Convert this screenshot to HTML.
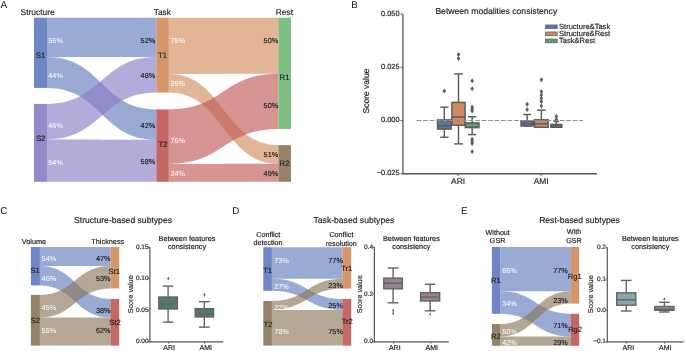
<!DOCTYPE html>
<html><head><meta charset="utf-8"><style>
html,body{margin:0;padding:0;background:#fff;overflow:hidden;width:685px;height:351px;}
svg{display:block;font-family:"Liberation Sans", sans-serif;will-change:transform;text-rendering:geometricPrecision;}
</style></head><body>
<svg width="685" height="351" viewBox="0 0 685 351">
<rect x="0" y="0" width="685" height="351" fill="#ffffff"/>
<text x="0.60" y="7.60" font-size="9.9" fill="#1a1a1a" text-anchor="start" >A</text>
<text x="37.60" y="14.60" font-size="8.4" fill="#262626" stroke="#262626" stroke-width="0.18" text-anchor="middle" >Structure</text>
<text x="162.40" y="14.60" font-size="8.4" fill="#262626" stroke="#262626" stroke-width="0.18" text-anchor="middle" >Task</text>
<text x="284.40" y="14.60" font-size="8.4" fill="#262626" stroke="#262626" stroke-width="0.18" text-anchor="middle" >Rest</text>
<path d="M47.00,17.70 C101.65,17.70 101.65,17.70 156.30,17.70 L156.30,57.00 C101.65,57.00 101.65,57.00 47.00,57.00 Z" fill="#627cbf" fill-opacity="0.65"/>
<path d="M47.00,57.00 C101.65,57.00 101.65,109.40 156.30,109.40 L156.30,139.80 C101.65,139.80 101.65,87.90 47.00,87.90 Z" fill="#627cbf" fill-opacity="0.65"/>
<path d="M47.00,103.90 C101.65,103.90 101.65,57.00 156.30,57.00 L156.30,92.60 C101.65,92.60 101.65,139.50 47.00,139.50 Z" fill="#8b80c6" fill-opacity="0.65"/>
<path d="M47.00,139.50 C101.65,139.50 101.65,139.80 156.30,139.80 L156.30,181.80 C101.65,181.80 101.65,181.80 47.00,181.80 Z" fill="#8b80c6" fill-opacity="0.65"/>
<path d="M168.80,17.70 C223.60,17.70 223.60,17.70 278.40,17.70 L278.40,73.70 C223.60,73.70 223.60,74.00 168.80,74.00 Z" fill="#d28d60" fill-opacity="0.65"/>
<path d="M168.80,74.00 C223.60,74.00 223.60,145.10 278.40,145.10 L278.40,163.70 C223.60,163.70 223.60,92.60 168.80,92.60 Z" fill="#d28d60" fill-opacity="0.65"/>
<path d="M168.80,109.40 C223.60,109.40 223.60,73.70 278.40,73.70 L278.40,129.00 C223.60,129.00 223.60,164.00 168.80,164.00 Z" fill="#c05b58" fill-opacity="0.65"/>
<path d="M168.80,164.00 C223.60,164.00 223.60,163.70 278.40,163.70 L278.40,181.80 C223.60,181.80 223.60,181.80 168.80,181.80 Z" fill="#c05b58" fill-opacity="0.65"/>
<rect x="34.00" y="17.70" width="13.00" height="70.20" fill="#627cbf" fill-opacity="0.92"/>
<rect x="34.00" y="103.90" width="13.00" height="77.90" fill="#8b80c6" fill-opacity="0.92"/>
<rect x="156.30" y="17.70" width="12.50" height="74.90" fill="#d28d60" fill-opacity="0.92"/>
<rect x="156.30" y="109.40" width="12.50" height="72.40" fill="#c05b58" fill-opacity="0.92"/>
<rect x="278.40" y="17.70" width="12.60" height="111.30" fill="#75ba79" fill-opacity="0.92"/>
<rect x="278.40" y="145.10" width="12.60" height="36.70" fill="#8c785c" fill-opacity="0.92"/>
<text x="48.30" y="43.01" font-size="7.3" fill="#ffffff" text-anchor="start" >56%</text>
<text x="48.30" y="77.91" font-size="7.3" fill="#ffffff" text-anchor="start" >44%</text>
<text x="48.30" y="127.71" font-size="7.3" fill="#ffffff" text-anchor="start" >46%</text>
<text x="48.30" y="164.51" font-size="7.3" fill="#ffffff" text-anchor="start" >54%</text>
<text x="155.20" y="43.01" font-size="7.3" fill="#262626" stroke="#262626" stroke-width="0.18" text-anchor="end" >52%</text>
<text x="155.20" y="77.81" font-size="7.3" fill="#262626" stroke="#262626" stroke-width="0.18" text-anchor="end" >48%</text>
<text x="155.20" y="127.71" font-size="7.3" fill="#262626" stroke="#262626" stroke-width="0.18" text-anchor="end" >42%</text>
<text x="155.20" y="164.21" font-size="7.3" fill="#262626" stroke="#262626" stroke-width="0.18" text-anchor="end" >58%</text>
<text x="170.40" y="43.01" font-size="7.3" fill="#ffffff" text-anchor="start" >75%</text>
<text x="170.40" y="86.11" font-size="7.3" fill="#ffffff" text-anchor="start" >25%</text>
<text x="170.40" y="142.71" font-size="7.3" fill="#ffffff" text-anchor="start" >76%</text>
<text x="170.40" y="175.71" font-size="7.3" fill="#ffffff" text-anchor="start" >24%</text>
<text x="278.20" y="43.01" font-size="7.3" fill="#262626" stroke="#262626" stroke-width="0.18" text-anchor="end" >50%</text>
<text x="278.20" y="107.61" font-size="7.3" fill="#262626" stroke="#262626" stroke-width="0.18" text-anchor="end" >50%</text>
<text x="278.20" y="157.31" font-size="7.3" fill="#262626" stroke="#262626" stroke-width="0.18" text-anchor="end" >51%</text>
<text x="278.20" y="175.91" font-size="7.3" fill="#262626" stroke="#262626" stroke-width="0.18" text-anchor="end" >49%</text>
<text x="40.50" y="57.58" font-size="7.8" fill="#262626" stroke="#262626" stroke-width="0.18" text-anchor="middle" >S1</text>
<text x="40.70" y="140.88" font-size="7.8" fill="#262626" stroke="#262626" stroke-width="0.18" text-anchor="middle" >S2</text>
<text x="162.60" y="57.68" font-size="7.8" fill="#262626" stroke="#262626" stroke-width="0.18" text-anchor="middle" >T1</text>
<text x="163.00" y="146.68" font-size="7.8" fill="#262626" stroke="#262626" stroke-width="0.18" text-anchor="middle" >T2</text>
<text x="284.60" y="79.78" font-size="7.8" fill="#262626" stroke="#262626" stroke-width="0.18" text-anchor="middle" >R1</text>
<text x="284.50" y="165.68" font-size="7.8" fill="#262626" stroke="#262626" stroke-width="0.18" text-anchor="middle" >R2</text>
<text x="351.20" y="7.60" font-size="9.9" fill="#1a1a1a" text-anchor="start" >B</text>
<text x="496.30" y="13.80" font-size="8.6" fill="#262626" stroke="#262626" stroke-width="0.18" text-anchor="middle" >Between modalities consistency</text>
<line x1="402.90" y1="14.00" x2="402.90" y2="174.25" stroke="#555555" stroke-width="1.3" />
<line x1="402.40" y1="173.75" x2="597.00" y2="173.75" stroke="#555555" stroke-width="1.3" />
<line x1="400.50" y1="14.00" x2="402.90" y2="14.00" stroke="#555555" stroke-width="1.0" />
<text x="399.60" y="15.55" font-size="7.4" fill="#262626" stroke="#262626" stroke-width="0.18" text-anchor="end" >0.050</text>
<line x1="400.50" y1="67.25" x2="402.90" y2="67.25" stroke="#555555" stroke-width="1.0" />
<text x="399.60" y="68.80" font-size="7.4" fill="#262626" stroke="#262626" stroke-width="0.18" text-anchor="end" >0.025</text>
<line x1="400.50" y1="120.50" x2="402.90" y2="120.50" stroke="#555555" stroke-width="1.0" />
<text x="399.60" y="122.05" font-size="7.4" fill="#262626" stroke="#262626" stroke-width="0.18" text-anchor="end" >0.000</text>
<line x1="400.50" y1="173.75" x2="402.90" y2="173.75" stroke="#555555" stroke-width="1.0" />
<text x="399.60" y="175.30" font-size="7.4" fill="#262626" stroke="#262626" stroke-width="0.18" text-anchor="end" >−0.025</text>
<text x="369.20" y="91.00" font-size="8.5" fill="#262626" stroke="#262626" stroke-width="0.18" text-anchor="middle" transform="rotate(-90 369.2 91.0)">Score value</text>
<line x1="458.10" y1="173.75" x2="458.10" y2="175.80" stroke="#555555" stroke-width="1.0" />
<text x="458.10" y="183.80" font-size="8.4" fill="#262626" stroke="#262626" stroke-width="0.18" text-anchor="middle" >ARI</text>
<line x1="541.10" y1="173.75" x2="541.10" y2="175.80" stroke="#555555" stroke-width="1.0" />
<text x="541.10" y="183.80" font-size="8.4" fill="#262626" stroke="#262626" stroke-width="0.18" text-anchor="middle" >AMI</text>
<line x1="444.30" y1="107.20" x2="444.30" y2="119.90" stroke="#5c5c5c" stroke-width="1.45" />
<line x1="444.30" y1="129.10" x2="444.30" y2="137.30" stroke="#5c5c5c" stroke-width="1.45" />
<line x1="440.15" y1="107.20" x2="448.45" y2="107.20" stroke="#5c5c5c" stroke-width="1.45" />
<line x1="440.15" y1="137.30" x2="448.45" y2="137.30" stroke="#5c5c5c" stroke-width="1.45" />
<rect x="437.50" y="119.90" width="13.60" height="9.20" fill="#5975a4" stroke="#5c5c5c" stroke-width="1.45"/>
<line x1="437.50" y1="125.90" x2="451.10" y2="125.90" stroke="#5c5c5c" stroke-width="1.45" />
<path d="M444.30,88.55 L446.10,91.00 L444.30,93.45 L442.50,91.00 Z" fill="#5c5c5c"/>
<line x1="458.50" y1="73.90" x2="458.50" y2="102.40" stroke="#5c5c5c" stroke-width="1.45" />
<line x1="458.50" y1="125.20" x2="458.50" y2="143.90" stroke="#5c5c5c" stroke-width="1.45" />
<line x1="454.10" y1="73.90" x2="462.90" y2="73.90" stroke="#5c5c5c" stroke-width="1.45" />
<line x1="454.10" y1="143.90" x2="462.90" y2="143.90" stroke="#5c5c5c" stroke-width="1.45" />
<rect x="451.90" y="102.40" width="13.20" height="22.80" fill="#cc8963" stroke="#5c5c5c" stroke-width="1.45"/>
<line x1="451.90" y1="117.00" x2="465.10" y2="117.00" stroke="#5c5c5c" stroke-width="1.45" />
<path d="M458.50,52.15 L460.30,54.60 L458.50,57.05 L456.70,54.60 Z" fill="#5c5c5c"/>
<path d="M458.50,56.05 L460.30,58.50 L458.50,60.95 L456.70,58.50 Z" fill="#5c5c5c"/>
<line x1="472.15" y1="116.80" x2="472.15" y2="122.90" stroke="#5c5c5c" stroke-width="1.45" />
<line x1="472.15" y1="127.60" x2="472.15" y2="134.60" stroke="#5c5c5c" stroke-width="1.45" />
<line x1="468.05" y1="116.80" x2="476.25" y2="116.80" stroke="#5c5c5c" stroke-width="1.45" />
<line x1="468.05" y1="134.60" x2="476.25" y2="134.60" stroke="#5c5c5c" stroke-width="1.45" />
<rect x="465.30" y="122.90" width="13.70" height="4.70" fill="#5f9e6e" stroke="#5c5c5c" stroke-width="1.45"/>
<line x1="465.30" y1="127.30" x2="479.00" y2="127.30" stroke="#5c5c5c" stroke-width="1.45" />
<path d="M472.15,78.35 L473.95,80.80 L472.15,83.25 L470.35,80.80 Z" fill="#5c5c5c"/>
<path d="M472.15,86.35 L473.95,88.80 L472.15,91.25 L470.35,88.80 Z" fill="#5c5c5c"/>
<path d="M472.15,104.65 L473.95,107.10 L472.15,109.55 L470.35,107.10 Z" fill="#5c5c5c"/>
<path d="M472.15,106.65 L473.95,109.10 L472.15,111.55 L470.35,109.10 Z" fill="#5c5c5c"/>
<path d="M472.15,108.65 L473.95,111.10 L472.15,113.55 L470.35,111.10 Z" fill="#5c5c5c"/>
<path d="M472.15,136.85 L473.95,139.30 L472.15,141.75 L470.35,139.30 Z" fill="#5c5c5c"/>
<path d="M472.15,139.05 L473.95,141.50 L472.15,143.95 L470.35,141.50 Z" fill="#5c5c5c"/>
<path d="M472.15,141.15 L473.95,143.60 L472.15,146.05 L470.35,143.60 Z" fill="#5c5c5c"/>
<path d="M472.15,149.15 L473.95,151.60 L472.15,154.05 L470.35,151.60 Z" fill="#5c5c5c"/>
<line x1="527.15" y1="114.50" x2="527.15" y2="121.00" stroke="#5c5c5c" stroke-width="1.45" />
<line x1="527.15" y1="126.00" x2="527.15" y2="126.00" stroke="#5c5c5c" stroke-width="1.45" />
<line x1="523.15" y1="114.50" x2="531.15" y2="114.50" stroke="#5c5c5c" stroke-width="1.45" />
<line x1="523.15" y1="126.00" x2="531.15" y2="126.00" stroke="#5c5c5c" stroke-width="1.45" />
<rect x="521.00" y="121.00" width="12.30" height="5.00" fill="#5975a4" stroke="#5c5c5c" stroke-width="1.45"/>
<line x1="521.00" y1="123.80" x2="533.30" y2="123.80" stroke="#5c5c5c" stroke-width="1.45" />
<path d="M527.15,101.75 L528.95,104.20 L527.15,106.65 L525.35,104.20 Z" fill="#5c5c5c"/>
<path d="M527.15,107.15 L528.95,109.60 L527.15,112.05 L525.35,109.60 Z" fill="#5c5c5c"/>
<line x1="541.35" y1="110.20" x2="541.35" y2="119.80" stroke="#5c5c5c" stroke-width="1.45" />
<line x1="541.35" y1="127.30" x2="541.35" y2="127.30" stroke="#5c5c5c" stroke-width="1.45" />
<line x1="537.00" y1="110.20" x2="545.70" y2="110.20" stroke="#5c5c5c" stroke-width="1.45" />
<line x1="537.00" y1="127.30" x2="545.70" y2="127.30" stroke="#5c5c5c" stroke-width="1.45" />
<rect x="534.50" y="119.80" width="13.70" height="7.50" fill="#cc8963" stroke="#5c5c5c" stroke-width="1.45"/>
<line x1="534.50" y1="123.80" x2="548.20" y2="123.80" stroke="#5c5c5c" stroke-width="1.45" />
<path d="M541.35,77.35 L543.15,79.80 L541.35,82.25 L539.55,79.80 Z" fill="#5c5c5c"/>
<path d="M541.35,89.15 L543.15,91.60 L541.35,94.05 L539.55,91.60 Z" fill="#5c5c5c"/>
<path d="M541.35,92.45 L543.15,94.90 L541.35,97.35 L539.55,94.90 Z" fill="#5c5c5c"/>
<path d="M541.35,95.75 L543.15,98.20 L541.35,100.65 L539.55,98.20 Z" fill="#5c5c5c"/>
<path d="M541.35,99.05 L543.15,101.50 L541.35,103.95 L539.55,101.50 Z" fill="#5c5c5c"/>
<path d="M541.35,103.55 L543.15,106.00 L541.35,108.45 L539.55,106.00 Z" fill="#5c5c5c"/>
<line x1="556.35" y1="121.40" x2="556.35" y2="124.40" stroke="#5c5c5c" stroke-width="1.45" />
<line x1="556.35" y1="127.30" x2="556.35" y2="127.30" stroke="#5c5c5c" stroke-width="1.45" />
<line x1="553.60" y1="121.40" x2="559.10" y2="121.40" stroke="#5c5c5c" stroke-width="1.45" />
<line x1="553.60" y1="127.30" x2="559.10" y2="127.30" stroke="#5c5c5c" stroke-width="1.45" />
<rect x="550.90" y="124.40" width="10.90" height="2.90" fill="#6d7f72" stroke="#5c5c5c" stroke-width="1.45"/>
<line x1="550.90" y1="126.00" x2="561.80" y2="126.00" stroke="#5c5c5c" stroke-width="1.45" />
<path d="M556.35,113.95 L558.15,116.40 L556.35,118.85 L554.55,116.40 Z" fill="#5c5c5c"/>
<path d="M556.35,116.95 L558.15,119.40 L556.35,121.85 L554.55,119.40 Z" fill="#5c5c5c"/>
<line x1="416.60" y1="120.50" x2="583.00" y2="120.50" stroke="#8e8e8e" stroke-width="1.0" stroke-dasharray="4.7 1.8"/>
<rect x="545.4" y="25.00" width="11.8" height="3.6" fill="#5975a4" stroke="#6a6a6a" stroke-width="0.9"/>
<text x="559.00" y="29.00" font-size="7.55" fill="#262626" stroke="#262626" stroke-width="0.18" text-anchor="start" >Structure&amp;Task</text>
<rect x="545.4" y="32.05" width="11.8" height="3.6" fill="#cc8963" stroke="#6a6a6a" stroke-width="0.9"/>
<text x="559.00" y="36.05" font-size="7.55" fill="#262626" stroke="#262626" stroke-width="0.18" text-anchor="start" >Structure&amp;Rest</text>
<rect x="545.4" y="39.10" width="11.8" height="3.6" fill="#5f9e6e" stroke="#6a6a6a" stroke-width="0.9"/>
<text x="559.00" y="43.10" font-size="7.55" fill="#262626" stroke="#262626" stroke-width="0.18" text-anchor="start" >Task&amp;Rest</text>
<text x="0.30" y="213.50" font-size="9.9" fill="#1a1a1a" text-anchor="start" >C</text>
<text x="123.00" y="223.10" font-size="8.6" fill="#262626" stroke="#262626" stroke-width="0.18" text-anchor="middle" >Structure-based subtypes</text>
<text x="34.00" y="244.20" font-size="7.3" fill="#262626" stroke="#262626" stroke-width="0.18" text-anchor="middle" >Volume</text>
<text x="107.80" y="244.10" font-size="7.3" fill="#262626" stroke="#262626" stroke-width="0.18" text-anchor="middle" >Thickness</text>
<path d="M39.90,247.00 C75.20,247.00 75.20,247.00 110.50,247.00 L110.50,266.10 C75.20,266.10 75.20,266.10 39.90,266.10 Z" fill="#627cbf" fill-opacity="0.65"/>
<path d="M39.90,266.10 C75.20,266.10 75.20,298.90 110.50,298.90 L110.50,317.40 C75.20,317.40 75.20,285.40 39.90,285.40 Z" fill="#627cbf" fill-opacity="0.65"/>
<path d="M39.90,294.90 C75.20,294.90 75.20,266.10 110.50,266.10 L110.50,288.40 C75.20,288.40 75.20,317.40 39.90,317.40 Z" fill="#8c785c" fill-opacity="0.65"/>
<path d="M39.90,317.40 C75.20,317.40 75.20,317.40 110.50,317.40 L110.50,345.60 C75.20,345.60 75.20,345.60 39.90,345.60 Z" fill="#8c785c" fill-opacity="0.65"/>
<rect x="30.90" y="247.00" width="9.00" height="38.40" fill="#627cbf" fill-opacity="0.92"/>
<rect x="30.90" y="294.90" width="9.00" height="50.70" fill="#8c785c" fill-opacity="0.92"/>
<rect x="110.50" y="247.00" width="8.70" height="41.40" fill="#d28d60" fill-opacity="0.92"/>
<rect x="110.50" y="298.90" width="8.70" height="46.70" fill="#c05b58" fill-opacity="0.92"/>
<text x="41.60" y="260.91" font-size="7.3" fill="#ffffff" text-anchor="start" >54%</text>
<text x="41.60" y="280.71" font-size="7.3" fill="#ffffff" text-anchor="start" >46%</text>
<text x="41.60" y="309.61" font-size="7.3" fill="#ffffff" text-anchor="start" >45%</text>
<text x="41.60" y="333.11" font-size="7.3" fill="#ffffff" text-anchor="start" >55%</text>
<text x="110.60" y="261.01" font-size="7.3" fill="#262626" stroke="#262626" stroke-width="0.18" text-anchor="end" >47%</text>
<text x="110.60" y="280.71" font-size="7.3" fill="#262626" stroke="#262626" stroke-width="0.18" text-anchor="end" >53%</text>
<text x="110.60" y="312.51" font-size="7.3" fill="#262626" stroke="#262626" stroke-width="0.18" text-anchor="end" >38%</text>
<text x="110.60" y="333.41" font-size="7.3" fill="#262626" stroke="#262626" stroke-width="0.18" text-anchor="end" >62%</text>
<text x="35.10" y="272.91" font-size="7.6" fill="#262626" stroke="#262626" stroke-width="0.18" text-anchor="middle" >S1</text>
<text x="35.40" y="322.71" font-size="7.6" fill="#262626" stroke="#262626" stroke-width="0.18" text-anchor="middle" >S2</text>
<text x="114.30" y="273.51" font-size="7.6" fill="#262626" stroke="#262626" stroke-width="0.18" text-anchor="middle" >St1</text>
<text x="115.00" y="325.41" font-size="7.6" fill="#262626" stroke="#262626" stroke-width="0.18" text-anchor="middle" >St2</text>
<line x1="149.90" y1="247.00" x2="149.90" y2="342.40" stroke="#555555" stroke-width="1.2" />
<line x1="149.40" y1="341.90" x2="223.20" y2="341.90" stroke="#555555" stroke-width="1.2" />
<line x1="148.10" y1="247.00" x2="149.90" y2="247.00" stroke="#555555" stroke-width="0.9" />
<text x="148.60" y="248.64" font-size="6.5" fill="#262626" stroke="#262626" stroke-width="0.18" text-anchor="end" >0.15</text>
<line x1="148.10" y1="278.50" x2="149.90" y2="278.50" stroke="#555555" stroke-width="0.9" />
<text x="148.60" y="280.14" font-size="6.5" fill="#262626" stroke="#262626" stroke-width="0.18" text-anchor="end" >0.10</text>
<line x1="148.10" y1="310.00" x2="149.90" y2="310.00" stroke="#555555" stroke-width="0.9" />
<text x="148.60" y="311.64" font-size="6.5" fill="#262626" stroke="#262626" stroke-width="0.18" text-anchor="end" >0.05</text>
<line x1="148.10" y1="341.50" x2="149.90" y2="341.50" stroke="#555555" stroke-width="0.9" />
<text x="148.60" y="343.14" font-size="6.5" fill="#262626" stroke="#262626" stroke-width="0.18" text-anchor="end" >0.00</text>
<text x="132.60" y="294.30" font-size="7.2" fill="#262626" stroke="#262626" stroke-width="0.18" text-anchor="middle" transform="rotate(-90 132.60 294.3)">Score value</text>
<text x="187.00" y="240.60" font-size="7.3" fill="#262626" stroke="#262626" stroke-width="0.18" text-anchor="middle" >Between features</text>
<text x="187.00" y="249.40" font-size="7.3" fill="#262626" stroke="#262626" stroke-width="0.18" text-anchor="middle" >consistency</text>
<line x1="168.50" y1="341.90" x2="168.50" y2="343.60" stroke="#555555" stroke-width="0.9" />
<text x="169.20" y="349.90" font-size="7.0" fill="#262626" stroke="#262626" stroke-width="0.18" text-anchor="middle" >ARI</text>
<line x1="204.50" y1="341.90" x2="204.50" y2="343.60" stroke="#555555" stroke-width="0.9" />
<text x="205.80" y="349.90" font-size="7.0" fill="#262626" stroke="#262626" stroke-width="0.18" text-anchor="middle" >AMI</text>
<line x1="168.10" y1="286.10" x2="168.10" y2="297.00" stroke="#636363" stroke-width="1.4" />
<line x1="168.10" y1="309.00" x2="168.10" y2="322.20" stroke="#636363" stroke-width="1.4" />
<line x1="162.90" y1="286.10" x2="173.30" y2="286.10" stroke="#636363" stroke-width="1.4" />
<line x1="162.90" y1="322.20" x2="173.30" y2="322.20" stroke="#636363" stroke-width="1.4" />
<rect x="158.80" y="297.00" width="18.60" height="12.00" fill="#53786e" stroke="#636363" stroke-width="1.4"/>
<line x1="158.80" y1="304.00" x2="177.40" y2="304.00" stroke="#636363" stroke-width="1.4" />
<line x1="204.35" y1="301.70" x2="204.35" y2="308.70" stroke="#636363" stroke-width="1.4" />
<line x1="204.35" y1="316.90" x2="204.35" y2="327.10" stroke="#636363" stroke-width="1.4" />
<line x1="198.90" y1="301.70" x2="209.80" y2="301.70" stroke="#636363" stroke-width="1.4" />
<line x1="198.90" y1="327.10" x2="209.80" y2="327.10" stroke="#636363" stroke-width="1.4" />
<rect x="195.20" y="308.70" width="18.30" height="8.20" fill="#53786e" stroke="#636363" stroke-width="1.4"/>
<line x1="195.20" y1="313.90" x2="213.50" y2="313.90" stroke="#636363" stroke-width="1.4" />
<path d="M168.30,276.60 L169.40,278.60 L168.30,280.60 L167.20,278.60 Z" fill="#636363"/>
<path d="M204.50,292.80 L205.60,294.80 L204.50,296.80 L203.40,294.80 Z" fill="#636363"/>
<text x="232.20" y="213.50" font-size="9.9" fill="#1a1a1a" text-anchor="start" >D</text>
<text x="353.90" y="223.10" font-size="8.6" fill="#262626" stroke="#262626" stroke-width="0.18" text-anchor="middle" >Task-based subtypes</text>
<text x="268.20" y="237.00" font-size="7.2" fill="#262626" stroke="#262626" stroke-width="0.18" text-anchor="middle" >Conflict</text>
<text x="268.00" y="245.30" font-size="7.2" fill="#262626" stroke="#262626" stroke-width="0.18" text-anchor="middle" >detection</text>
<text x="341.40" y="237.20" font-size="7.2" fill="#262626" stroke="#262626" stroke-width="0.18" text-anchor="middle" >Conflict</text>
<text x="341.30" y="245.60" font-size="7.2" fill="#262626" stroke="#262626" stroke-width="0.18" text-anchor="middle" >resolution</text>
<path d="M271.90,247.20 C307.15,247.20 307.15,247.20 342.40,247.20 L342.40,278.70 C307.15,278.70 307.15,278.70 271.90,278.70 Z" fill="#627cbf" fill-opacity="0.65"/>
<path d="M271.90,278.70 C307.15,278.70 307.15,298.90 342.40,298.90 L342.40,309.90 C307.15,309.90 307.15,290.80 271.90,290.80 Z" fill="#627cbf" fill-opacity="0.65"/>
<path d="M271.90,301.00 C307.15,301.00 307.15,278.70 342.40,278.70 L342.40,288.60 C307.15,288.60 307.15,309.90 271.90,309.90 Z" fill="#8c785c" fill-opacity="0.65"/>
<path d="M271.90,309.90 C307.15,309.90 307.15,309.90 342.40,309.90 L342.40,345.60 C307.15,345.60 307.15,345.60 271.90,345.60 Z" fill="#8c785c" fill-opacity="0.65"/>
<rect x="263.30" y="247.20" width="8.60" height="43.60" fill="#627cbf" fill-opacity="0.92"/>
<rect x="263.30" y="301.00" width="8.60" height="44.60" fill="#8c785c" fill-opacity="0.92"/>
<rect x="342.40" y="247.20" width="8.80" height="41.40" fill="#d28d60" fill-opacity="0.92"/>
<rect x="342.40" y="298.90" width="8.80" height="46.70" fill="#c05b58" fill-opacity="0.92"/>
<text x="274.20" y="262.61" font-size="7.3" fill="#ffffff" text-anchor="start" >73%</text>
<text x="274.20" y="289.31" font-size="7.3" fill="#ffffff" text-anchor="start" >27%</text>
<text x="274.20" y="309.81" font-size="7.3" fill="#ffffff" text-anchor="start" >22%</text>
<text x="274.20" y="334.31" font-size="7.3" fill="#ffffff" text-anchor="start" >78%</text>
<text x="342.90" y="262.61" font-size="7.3" fill="#262626" stroke="#262626" stroke-width="0.18" text-anchor="end" >77%</text>
<text x="342.90" y="287.51" font-size="7.3" fill="#262626" stroke="#262626" stroke-width="0.18" text-anchor="end" >23%</text>
<text x="342.90" y="307.91" font-size="7.3" fill="#262626" stroke="#262626" stroke-width="0.18" text-anchor="end" >25%</text>
<text x="342.90" y="334.31" font-size="7.3" fill="#262626" stroke="#262626" stroke-width="0.18" text-anchor="end" >75%</text>
<text x="267.60" y="272.91" font-size="7.6" fill="#262626" stroke="#262626" stroke-width="0.18" text-anchor="middle" >T1</text>
<text x="268.00" y="327.21" font-size="7.6" fill="#262626" stroke="#262626" stroke-width="0.18" text-anchor="middle" >T2</text>
<text x="346.70" y="270.61" font-size="7.6" fill="#262626" stroke="#262626" stroke-width="0.18" text-anchor="middle" >Tr1</text>
<text x="347.20" y="323.91" font-size="7.6" fill="#262626" stroke="#262626" stroke-width="0.18" text-anchor="middle" >Tr2</text>
<line x1="374.40" y1="247.10" x2="374.40" y2="342.40" stroke="#555555" stroke-width="1.2" />
<line x1="373.90" y1="341.90" x2="448.80" y2="341.90" stroke="#555555" stroke-width="1.2" />
<line x1="372.60" y1="247.10" x2="374.40" y2="247.10" stroke="#555555" stroke-width="0.9" />
<text x="373.10" y="248.74" font-size="6.5" fill="#262626" stroke="#262626" stroke-width="0.18" text-anchor="end" >0.4</text>
<line x1="372.60" y1="294.40" x2="374.40" y2="294.40" stroke="#555555" stroke-width="0.9" />
<text x="373.10" y="296.04" font-size="6.5" fill="#262626" stroke="#262626" stroke-width="0.18" text-anchor="end" >0.2</text>
<line x1="372.60" y1="341.70" x2="374.40" y2="341.70" stroke="#555555" stroke-width="0.9" />
<text x="373.10" y="343.34" font-size="6.5" fill="#262626" stroke="#262626" stroke-width="0.18" text-anchor="end" >0.0</text>
<text x="361.70" y="294.30" font-size="7.2" fill="#262626" stroke="#262626" stroke-width="0.18" text-anchor="middle" transform="rotate(-90 361.70 294.3)">Score value</text>
<text x="411.40" y="240.60" font-size="7.3" fill="#262626" stroke="#262626" stroke-width="0.18" text-anchor="middle" >Between features</text>
<text x="411.40" y="249.40" font-size="7.3" fill="#262626" stroke="#262626" stroke-width="0.18" text-anchor="middle" >consistency</text>
<line x1="393.60" y1="341.90" x2="393.60" y2="343.60" stroke="#555555" stroke-width="0.9" />
<text x="394.80" y="349.90" font-size="7.0" fill="#262626" stroke="#262626" stroke-width="0.18" text-anchor="middle" >ARI</text>
<line x1="430.80" y1="341.90" x2="430.80" y2="343.60" stroke="#555555" stroke-width="0.9" />
<text x="431.80" y="349.90" font-size="7.0" fill="#262626" stroke="#262626" stroke-width="0.18" text-anchor="middle" >AMI</text>
<line x1="393.10" y1="268.00" x2="393.10" y2="278.10" stroke="#636363" stroke-width="1.4" />
<line x1="393.10" y1="288.80" x2="393.10" y2="302.80" stroke="#636363" stroke-width="1.4" />
<line x1="387.75" y1="268.00" x2="398.45" y2="268.00" stroke="#636363" stroke-width="1.4" />
<line x1="387.75" y1="302.80" x2="398.45" y2="302.80" stroke="#636363" stroke-width="1.4" />
<rect x="383.80" y="278.10" width="18.60" height="10.70" fill="#968290" stroke="#636363" stroke-width="1.4"/>
<line x1="383.80" y1="283.30" x2="402.40" y2="283.30" stroke="#636363" stroke-width="1.4" />
<line x1="430.15" y1="284.30" x2="430.15" y2="292.70" stroke="#636363" stroke-width="1.4" />
<line x1="430.15" y1="301.00" x2="430.15" y2="310.80" stroke="#636363" stroke-width="1.4" />
<line x1="424.90" y1="284.30" x2="435.40" y2="284.30" stroke="#636363" stroke-width="1.4" />
<line x1="424.90" y1="310.80" x2="435.40" y2="310.80" stroke="#636363" stroke-width="1.4" />
<rect x="420.60" y="292.70" width="19.10" height="8.30" fill="#968290" stroke="#636363" stroke-width="1.4"/>
<line x1="420.60" y1="297.10" x2="439.70" y2="297.10" stroke="#636363" stroke-width="1.4" />
<path d="M393.20,308.60 L394.30,310.40 L393.20,312.20 L392.10,310.40 Z" fill="#636363"/>
<path d="M393.20,311.60 L394.30,313.40 L393.20,315.20 L392.10,313.40 Z" fill="#636363"/>
<path d="M430.20,312.60 L431.20,314.20 L430.20,315.80 L429.20,314.20 Z" fill="#636363"/>
<text x="461.00" y="213.50" font-size="9.9" fill="#1a1a1a" text-anchor="start" >E</text>
<text x="579.50" y="223.10" font-size="8.6" fill="#262626" stroke="#262626" stroke-width="0.18" text-anchor="middle" >Rest-based subtypes</text>
<text x="497.70" y="234.90" font-size="7.2" fill="#262626" stroke="#262626" stroke-width="0.18" text-anchor="middle" >Without</text>
<text x="497.60" y="243.30" font-size="7.2" fill="#262626" stroke="#262626" stroke-width="0.18" text-anchor="middle" >GSR</text>
<text x="574.00" y="234.00" font-size="7.2" fill="#262626" stroke="#262626" stroke-width="0.18" text-anchor="middle" >With</text>
<text x="574.00" y="242.80" font-size="7.2" fill="#262626" stroke="#262626" stroke-width="0.18" text-anchor="middle" >GSR</text>
<path d="M500.20,247.00 C535.55,247.00 535.55,247.00 570.90,247.00 L570.90,291.20 C535.55,291.20 535.55,291.20 500.20,291.20 Z" fill="#627cbf" fill-opacity="0.65"/>
<path d="M500.20,291.20 C535.55,291.20 535.55,313.80 570.90,313.80 L570.90,336.50 C535.55,336.50 535.55,313.80 500.20,313.80 Z" fill="#627cbf" fill-opacity="0.65"/>
<path d="M500.20,324.00 C535.55,324.00 535.55,291.20 570.90,291.20 L570.90,303.60 C535.55,303.60 535.55,336.50 500.20,336.50 Z" fill="#8c785c" fill-opacity="0.65"/>
<path d="M500.20,336.50 C535.55,336.50 535.55,336.50 570.90,336.50 L570.90,345.80 C535.55,345.80 535.55,345.80 500.20,345.80 Z" fill="#8c785c" fill-opacity="0.65"/>
<rect x="491.90" y="247.00" width="8.30" height="66.80" fill="#627cbf" fill-opacity="0.92"/>
<rect x="491.90" y="324.00" width="8.30" height="21.80" fill="#8c785c" fill-opacity="0.92"/>
<rect x="570.90" y="247.00" width="8.30" height="56.60" fill="#d28d60" fill-opacity="0.92"/>
<rect x="570.90" y="313.80" width="8.30" height="32.00" fill="#c05b58" fill-opacity="0.92"/>
<text x="502.20" y="272.81" font-size="7.3" fill="#ffffff" text-anchor="start" >66%</text>
<text x="502.20" y="305.61" font-size="7.3" fill="#ffffff" text-anchor="start" >34%</text>
<text x="502.20" y="333.51" font-size="7.3" fill="#ffffff" text-anchor="start" >58%</text>
<text x="502.20" y="344.71" font-size="7.3" fill="#ffffff" text-anchor="start" >42%</text>
<text x="567.80" y="272.81" font-size="7.3" fill="#262626" stroke="#262626" stroke-width="0.18" text-anchor="end" >77%</text>
<text x="567.80" y="302.51" font-size="7.3" fill="#262626" stroke="#262626" stroke-width="0.18" text-anchor="end" >23%</text>
<text x="567.80" y="327.61" font-size="7.3" fill="#262626" stroke="#262626" stroke-width="0.18" text-anchor="end" >71%</text>
<text x="567.80" y="344.71" font-size="7.3" fill="#262626" stroke="#262626" stroke-width="0.18" text-anchor="end" >29%</text>
<text x="495.90" y="283.41" font-size="7.6" fill="#262626" stroke="#262626" stroke-width="0.18" text-anchor="middle" >R1</text>
<text x="495.80" y="338.61" font-size="7.6" fill="#262626" stroke="#262626" stroke-width="0.18" text-anchor="middle" >R2</text>
<text x="574.80" y="278.70" font-size="7.6" fill="#262626" stroke="#262626" stroke-width="0.18" text-anchor="middle" >Rg1</text>
<text x="575.10" y="331.50" font-size="7.6" fill="#262626" stroke="#262626" stroke-width="0.18" text-anchor="middle" >Rg2</text>
<line x1="607.30" y1="247.50" x2="607.30" y2="342.40" stroke="#555555" stroke-width="1.2" />
<line x1="606.80" y1="341.90" x2="683.60" y2="341.90" stroke="#555555" stroke-width="1.2" />
<line x1="605.50" y1="247.50" x2="607.30" y2="247.50" stroke="#555555" stroke-width="0.9" />
<text x="606.00" y="249.14" font-size="6.5" fill="#262626" stroke="#262626" stroke-width="0.18" text-anchor="end" >0.2</text>
<line x1="605.50" y1="278.90" x2="607.30" y2="278.90" stroke="#555555" stroke-width="0.9" />
<text x="606.00" y="280.54" font-size="6.5" fill="#262626" stroke="#262626" stroke-width="0.18" text-anchor="end" >0.1</text>
<line x1="605.50" y1="310.30" x2="607.30" y2="310.30" stroke="#555555" stroke-width="0.9" />
<text x="606.00" y="311.94" font-size="6.5" fill="#262626" stroke="#262626" stroke-width="0.18" text-anchor="end" >0.0</text>
<line x1="605.50" y1="341.70" x2="607.30" y2="341.70" stroke="#555555" stroke-width="0.9" />
<text x="606.00" y="343.34" font-size="6.5" fill="#262626" stroke="#262626" stroke-width="0.18" text-anchor="end" >−0.1</text>
<text x="593.20" y="294.30" font-size="7.2" fill="#262626" stroke="#262626" stroke-width="0.18" text-anchor="middle" transform="rotate(-90 593.20 294.3)">Score value</text>
<text x="650.30" y="240.60" font-size="7.3" fill="#262626" stroke="#262626" stroke-width="0.18" text-anchor="middle" >Between features</text>
<text x="650.30" y="249.40" font-size="7.3" fill="#262626" stroke="#262626" stroke-width="0.18" text-anchor="middle" >consistency</text>
<line x1="626.40" y1="341.90" x2="626.40" y2="343.60" stroke="#555555" stroke-width="0.9" />
<text x="628.40" y="349.90" font-size="7.0" fill="#262626" stroke="#262626" stroke-width="0.18" text-anchor="middle" >ARI</text>
<line x1="664.60" y1="341.90" x2="664.60" y2="343.60" stroke="#555555" stroke-width="0.9" />
<text x="665.20" y="349.90" font-size="7.0" fill="#262626" stroke="#262626" stroke-width="0.18" text-anchor="middle" >AMI</text>
<line x1="626.25" y1="280.40" x2="626.25" y2="292.80" stroke="#636363" stroke-width="1.4" />
<line x1="626.25" y1="305.20" x2="626.25" y2="311.00" stroke="#636363" stroke-width="1.4" />
<line x1="621.00" y1="280.40" x2="631.50" y2="280.40" stroke="#636363" stroke-width="1.4" />
<line x1="621.00" y1="311.00" x2="631.50" y2="311.00" stroke="#636363" stroke-width="1.4" />
<rect x="616.70" y="292.80" width="19.10" height="12.40" fill="#8aa5ae" stroke="#636363" stroke-width="1.4"/>
<line x1="616.70" y1="299.80" x2="635.80" y2="299.80" stroke="#636363" stroke-width="1.4" />
<line x1="664.40" y1="302.30" x2="664.40" y2="306.50" stroke="#636363" stroke-width="1.4" />
<line x1="664.40" y1="310.30" x2="664.40" y2="312.00" stroke="#636363" stroke-width="1.4" />
<line x1="659.05" y1="302.30" x2="669.75" y2="302.30" stroke="#636363" stroke-width="1.4" />
<line x1="659.05" y1="312.00" x2="669.75" y2="312.00" stroke="#636363" stroke-width="1.4" />
<rect x="654.80" y="306.50" width="19.20" height="3.80" fill="#8c979b" stroke="#636363" stroke-width="1.4"/>
<line x1="654.80" y1="309.20" x2="674.00" y2="309.20" stroke="#636363" stroke-width="1.4" />
<path d="M664.40,297.60 L665.60,299.20 L664.40,300.80 L663.20,299.20 Z" fill="#636363"/>
</svg>
</body></html>
